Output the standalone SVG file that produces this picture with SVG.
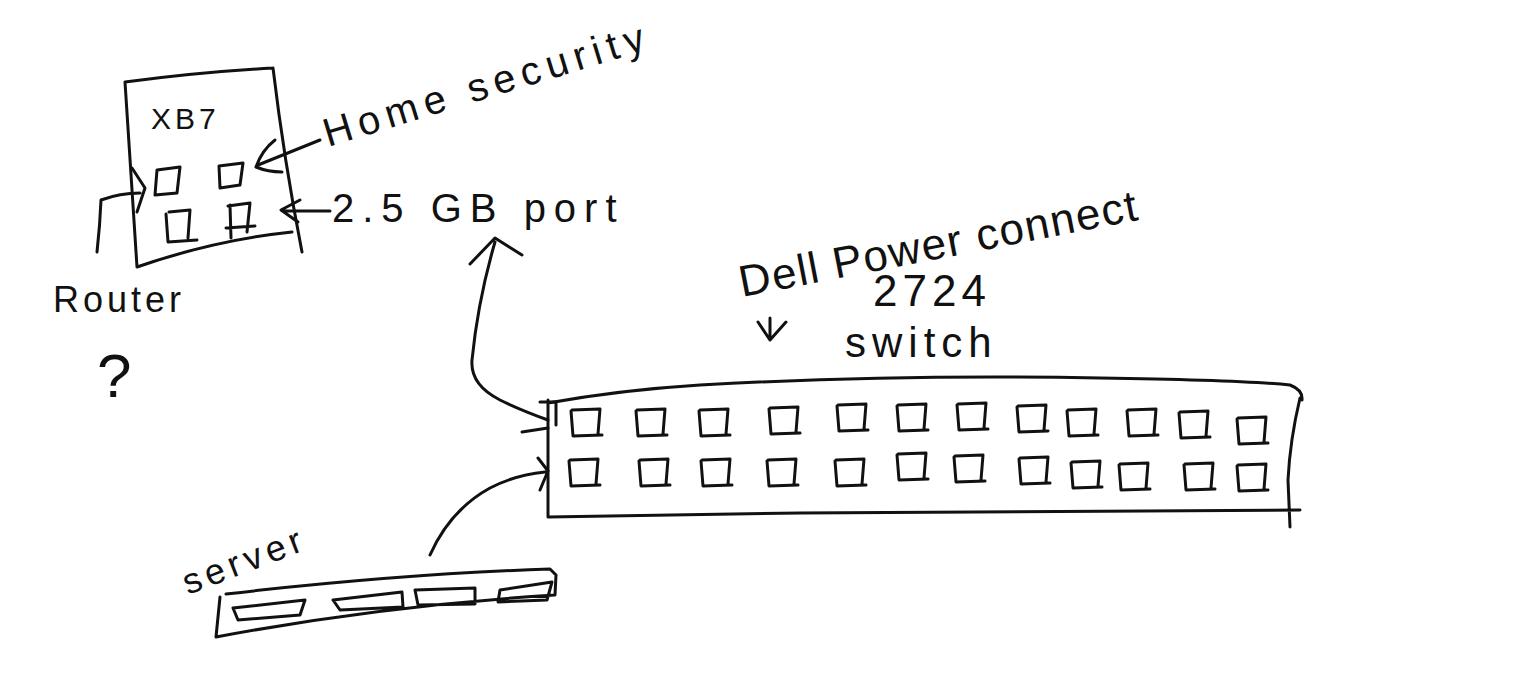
<svg xmlns="http://www.w3.org/2000/svg" width="1536" height="678" viewBox="0 0 1536 678">
<style>
.s{fill:none;stroke:#111;stroke-width:3;stroke-linecap:round;stroke-linejoin:round}
.t{font-family:"Liberation Sans","DejaVu Sans",sans-serif;fill:#111}
</style>
<defs>
<path id="port" d="M0,0 L28,-1 L26,24 M-1,1 L1,26 L30,25"/>
</defs>
<rect width="1536" height="678" fill="#fff"/>
<g id="xb7">
<path class="s" d="M125,82 Q200,72 273,68 M125,82 L137,267 M273,68 Q284,160 302,252 M137,267 Q215,240 292,232"/>
<text class="t" x="151" y="129" font-size="30" letter-spacing="4">XB7</text>
<path class="s" d="M157,170 L180,167 L177,193 L155,195 Z M219,166 L243,163 L240,185 L220,188 Z M169,212 L190,210 L188,238 M166,214 L168,242 L197,240 M228,206 L250,203 L247,232 M230,205 L231,238 M226,228 L255,226"/>
</g>
<g id="router">
<text class="t" x="53" y="312" font-size="36" letter-spacing="4">Router</text>
<text class="t" x="97" y="397" font-size="62">?</text>
</g>
<g id="home-security">
<text class="t" x="328" y="147" font-size="40" letter-spacing="6.5" transform="rotate(-17 328 147)">Home  security</text>
</g>
<g id="port-label">
<text class="t" x="332" y="222" font-size="40" letter-spacing="8">2.5 GB  port</text>
</g>
<g id="switch-label">
<text class="t" x="742" y="297" font-size="44" letter-spacing="1.5" transform="rotate(-11 742 297)">Dell Power connect</text>
<text class="t" x="873" y="306" font-size="44" letter-spacing="5">2724</text>
<text class="t" x="845" y="357" font-size="42" letter-spacing="6">switch</text>
</g>
<g id="switch">
<path class="s" d="M548,403 Q620,390 700,385 Q900,374 1100,378 Q1240,380 1290,385 Q1303,390 1302,400 M548,400 L548,517 M548,517 Q700,515 800,513 Q1000,512 1300,510 M1300,398 Q1290,440 1288,480 Q1289,505 1290,527"/>
<g class="s">
<use href="#port" x="572" y="410"/><use href="#port" x="637" y="410"/><use href="#port" x="700" y="410"/><use href="#port" x="770" y="408"/><use href="#port" x="838" y="405"/><use href="#port" x="898" y="405"/><use href="#port" x="958" y="404"/><use href="#port" x="1018" y="406"/><use href="#port" x="1068" y="410"/><use href="#port" x="1128" y="410"/><use href="#port" x="1180" y="412"/><use href="#port" x="1238" y="418"/>
<use href="#port" x="570" y="460"/><use href="#port" x="640" y="460"/><use href="#port" x="702" y="460"/><use href="#port" x="768" y="460"/><use href="#port" x="836" y="460"/><use href="#port" x="898" y="454"/><use href="#port" x="955" y="456"/><use href="#port" x="1020" y="458"/><use href="#port" x="1072" y="462"/><use href="#port" x="1120" y="464"/><use href="#port" x="1185" y="464"/><use href="#port" x="1238" y="465"/>
</g>
</g>
<g id="server">
<text class="t" x="188" y="595" font-size="36" letter-spacing="5" transform="rotate(-21 188 595)">server</text>
<path class="s" d="M226,594 Q400,574 550,569 L556,575 L555,595 Q380,606 216,637 L220,597 M233,608 L305,600 L300,615 L238,620 Z M333,600 L402,592 L403,607 L340,610 Z M415,590 L475,588 L475,604 L418,605 Z M500,590 L552,582 L547,600 L498,602 Z"/>
</g>
<g id="connectors">
<path class="s" d="M320,140 L258,165 M275,140 Q262,150 256,167 Q268,172 282,172"/>
<path class="s" d="M330,211 L283,211 M300,200 L281,210 L298,222"/>
<path class="s" d="M97,252 Q100,225 101,200 Q120,193 140,193 M132,168 L145,188 L137,212"/>
<path class="s" d="M548,420 Q520,410 500,400 Q470,385 472,360 Q478,300 495,242 M470,264 L495,238 L522,255"/>
<path class="s" d="M522,432 L548,428 M540,402 L556,402 L556,425"/>
<path class="s" d="M430,555 Q450,510 490,488 Q515,475 545,472 M538,458 L548,471 L540,490"/>
<path class="s" d="M770,318 L770,340 M758,322 L770,340 L786,322"/>
</g>
</svg>
